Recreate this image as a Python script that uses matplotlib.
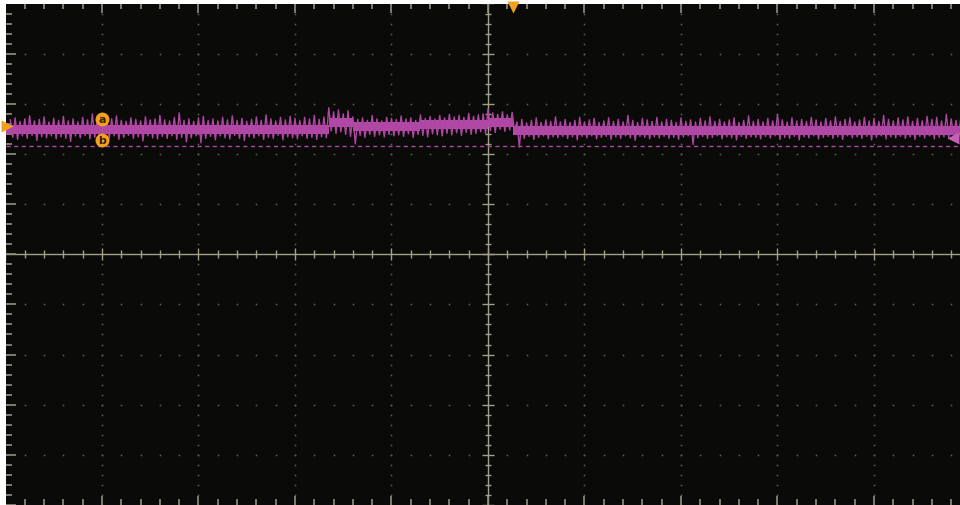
import numpy as np
import matplotlib.pyplot as plt

# ---------------- trace data (divisions) ----------------
# sample times, one every 0.05 div across the visible screen
t_start, t_step = -4.95, 0.05

# peak (upper) values of the noisy trace per sample
trace_hi = [
    2.68, 2.72, 2.65, 2.70, 2.76, 2.66, 2.69, 2.74, 2.64, 2.71,
    2.67, 2.75, 2.66, 2.70, 2.64, 2.73, 2.68, 2.80, 2.67, 2.71,
    2.66, 2.70, 2.76, 2.67, 2.65, 2.72, 2.69, 2.66, 2.74, 2.68,
    2.70, 2.77, 2.68, 2.66, 2.73, 2.82, 2.67, 2.70, 2.65, 2.72,
    2.75, 2.67, 2.70, 2.66, 2.73, 2.68, 2.76, 2.67, 2.71, 2.65,
    2.69, 2.74, 2.67, 2.78, 2.70, 2.66, 2.73, 2.68, 2.75, 2.71,
    2.67, 2.73, 2.70, 2.77, 2.69, 2.74,
    2.92, 2.84, 2.88, 2.80, 2.86,
    2.74, 2.69, 2.72, 2.67, 2.77, 2.70, 2.66, 2.73, 2.71,
    2.69, 2.76, 2.70, 2.72, 2.67, 2.78, 2.71, 2.75, 2.70, 2.77,
    2.72, 2.79, 2.74, 2.77, 2.73, 2.81, 2.75, 2.78, 2.80,
    2.90, 2.82, 2.79, 2.84, 2.78, 2.83,
    2.64, 2.69, 2.62, 2.67, 2.72, 2.63, 2.68, 2.65, 2.74, 2.64,
    2.69, 2.63, 2.67, 2.73, 2.64, 2.68, 2.71, 2.63, 2.66, 2.72,
    2.65, 2.69, 2.64, 2.77, 2.67, 2.63, 2.71, 2.68, 2.65, 2.73,
    2.64, 2.69, 2.67, 2.63, 2.72, 2.65, 2.68, 2.64, 2.71, 2.66,
    2.74, 2.65, 2.69, 2.64, 2.68, 2.72, 2.63, 2.67, 2.76, 2.65,
    2.69, 2.64, 2.71, 2.66, 2.79, 2.68, 2.64, 2.72, 2.66, 2.69,
    2.65, 2.73, 2.68, 2.64, 2.71, 2.66, 2.74, 2.65, 2.69, 2.72,
    2.64, 2.68, 2.73, 2.66, 2.71, 2.65, 2.77, 2.69, 2.66, 2.72,
    2.68, 2.74, 2.65, 2.71, 2.66, 2.75, 2.69, 2.73, 2.66, 2.79,
    2.70, 2.67, 2.74,
]

# trough (lower) values of the noisy trace per sample
trace_lo = [
    2.33, 2.29, 2.36, 2.31, 2.37, 2.27, 2.34, 2.32, 2.36, 2.30,
    2.34, 2.31, 2.25, 2.36, 2.32, 2.37, 2.30, 2.33, 2.28, 2.35,
    2.31, 2.36, 2.29, 2.33, 2.37, 2.31, 2.34, 2.26, 2.36, 2.32,
    2.30, 2.35, 2.31, 2.36, 2.29, 2.33, 2.24, 2.32, 2.36, 2.22,
    2.31, 2.35, 2.28, 2.36, 2.32, 2.30, 2.37, 2.31, 2.27, 2.34,
    2.32, 2.36, 2.29, 2.33, 2.31, 2.37, 2.28, 2.34, 2.32, 2.30,
    2.36, 2.31, 2.33, 2.29, 2.34, 2.32,
    2.46, 2.41, 2.44, 2.39, 2.35,
    2.20, 2.37, 2.33, 2.39, 2.35, 2.38, 2.34, 2.39, 2.36,
    2.38, 2.35, 2.40, 2.33, 2.39, 2.37, 2.34, 2.40, 2.38, 2.36,
    2.41, 2.38, 2.42, 2.37, 2.43, 2.39, 2.41, 2.44, 2.40,
    2.47, 2.43, 2.49, 2.45, 2.48, 2.46,
    2.14, 2.31, 2.35, 2.29, 2.33, 2.36, 2.30, 2.34, 2.32, 2.35,
    2.31, 2.34, 2.28, 2.35, 2.32, 2.36, 2.30, 2.33, 2.35, 2.29,
    2.34, 2.31, 2.36, 2.32, 2.27, 2.35, 2.33, 2.30, 2.34, 2.32,
    2.35, 2.31, 2.33, 2.29, 2.34, 2.36, 2.19, 2.32, 2.35, 2.31,
    2.33, 2.36, 2.30, 2.34, 2.32, 2.28, 2.35, 2.31, 2.34, 2.33,
    2.30, 2.35, 2.32, 2.36, 2.29, 2.33, 2.31, 2.35, 2.28, 2.34,
    2.32, 2.36, 2.30, 2.33, 2.35, 2.31, 2.34, 2.29, 2.36, 2.32,
    2.34, 2.31, 2.35, 2.28, 2.33, 2.36, 2.30, 2.34, 2.32, 2.35,
    2.31, 2.34, 2.29, 2.35, 2.32, 2.36, 2.30, 2.33, 2.34, 2.31,
    2.35, 2.32, 2.33,
]

# mean level of the trace between edges (dense core of the band)
level_edges = [-5.0, -1.65, -1.40, -0.70, 0.0, 0.26, 5.0]
level_vals = [2.50, 2.64, 2.55, 2.59, 2.64, 2.48]

ref_level = 2.15          # dashed reference line
cursor_t = -4.0           # cursor markers a / b
cursor_a, cursor_b = 2.70, 2.28
trigger_t = 0.26
ch_offset = 2.55
ref_marker = 2.31

########################################

bg = "#0a0a08"
grid_c = "#65655a"
axis_c = "#a3a08a"
tick_c = "#929080"
trace_c = "#b046a4"
core_c = "#b34aa8"
orange = "#f2a11f"

fig = plt.figure(figsize=(9.6, 5.05), dpi=100)
fig.patch.set_facecolor("white")
ax = fig.add_axes([5.5 / 960, 0, 965 / 960, 501.5 / 505])
ax.set_facecolor(bg)
ax.set_xlim(-5, 5)
ax.set_ylim(-5, 5)
ax.set_xticks([])
ax.set_yticks([])
for s in ax.spines.values():
    s.set_visible(False)

# dotted graticule
minor = np.round(np.arange(-5, 5.001, 0.2), 3)
for k in range(-4, 5):
    if k == 0:
        continue
    ax.plot(np.full_like(minor, k), minor, ls="none", marker="s", ms=1.1,
            mec="none", mfc=grid_c, zorder=1)
    ax.plot(minor, np.full_like(minor, k), ls="none", marker="s", ms=1.1,
            mec="none", mfc=grid_c, zorder=1)

# centre crosshair with its ticks
ax.axhline(0, color=axis_c, lw=1.0, zorder=2)
ax.axvline(0, color=axis_c, lw=1.0, zorder=2)
is_major = np.isclose(minor, np.round(minor))
ax.vlines(minor, np.where(is_major, -0.12, -0.08), np.where(is_major, 0.12, 0.08),
          color=axis_c, lw=1.0, zorder=2)
ax.hlines(minor, np.where(is_major, -0.06, -0.035), np.where(is_major, 0.06, 0.035),
          color=axis_c, lw=1.0, zorder=2)

# ticks on the screen edges
ax.hlines(minor, -5, np.where(is_major, -4.89, -4.93), color=tick_c, lw=1.2, zorder=2)
ax.vlines(minor, np.where(is_major, 4.82, 4.89), 5, color=tick_c, lw=1.2, zorder=2)
ax.vlines(minor, -5, np.where(is_major, -4.82, -4.89), color=tick_c, lw=1.2, zorder=2)

# reference line
ax.axhline(ref_level, color=trace_c, lw=1.0, ls=(0, (3, 2.5)), zorder=3)

# trace: dense core band plus the peak/trough excursions as one line
for i in range(len(level_vals)):
    ax.fill_between([level_edges[i], level_edges[i + 1]],
                    level_vals[i] - 0.10, level_vals[i] + 0.08,
                    color=core_c, lw=0, zorder=4)
t = t_start + t_step * np.arange(len(trace_hi))
zig_t = np.column_stack([t, t + t_step / 2]).ravel()
zig_v = np.column_stack([trace_hi, trace_lo]).ravel()
ax.plot(zig_t, zig_v, color=trace_c, lw=1.0, zorder=4)

# cursor markers
for val, lab in [(cursor_a, "a"), (cursor_b, "b")]:
    ax.plot(cursor_t, val, marker="o", ms=10, mfc=orange, mec="none", zorder=6)
    ax.text(cursor_t, val - 0.02, lab, color="#3a2200", fontsize=8,
            fontweight="bold", ha="center", va="center", zorder=7)

# trigger, channel and reference markers
ax.plot(trigger_t, 4.93, marker="v", ms=8, color=orange, mec="none",
        zorder=6, clip_on=False)
ax.plot(-4.98, ch_offset, marker=">", ms=8, color=orange, mec="none",
        zorder=6, clip_on=False)
ax.plot(4.82, ref_marker, marker="<", ms=8, color="#c462b8", mec="none", zorder=6)

plt.savefig("out.png", dpi=100, facecolor=fig.get_facecolor())
